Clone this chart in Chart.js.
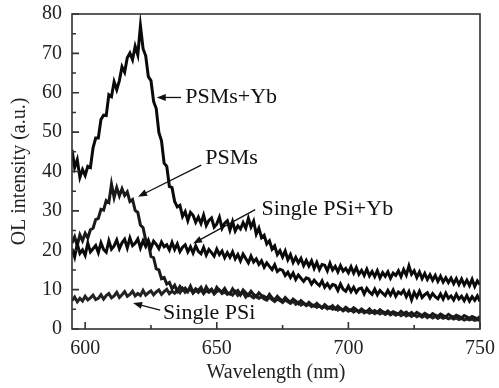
<!DOCTYPE html>
<html>
<head>
<meta charset="utf-8">
<script src="https://cdn.jsdelivr.net/npm/chart.js@4.4.1/dist/chart.umd.min.js"></script>
<style>
  html, body { margin: 0; padding: 0; background: #fff; }
  canvas { display: block; }
</style>
</head>
<body>
<canvas id="myChart" width="499" height="388"></canvas>
<script>
// wavelength grid, 1 nm steps from 595 to 750
var wavelength = [];
for (var w = 595; w <= 750; w++) wavelength.push(w);

var xTicks = [600, 650, 700, 750];
var xMinorTicks = [625, 675, 725];
var yTicks = [0, 10, 20, 30, 40, 50, 60, 70, 80];
var yMinorTicks = [5, 15, 25, 35, 45, 55, 65, 75];

var psmsYb = [
  45.5, 41.0, 43.0, 38.5, 40.5, 39.0, 41.3, 41.0, 46.0, 48.5,
  48.5, 53.2, 54.3, 54.2, 59.5, 59.0, 62.8, 60.8, 63.1, 66.6,
  65.2, 68.9, 70.1, 68.4, 71.8, 69.6, 77.0, 71.2, 69.4, 64.1,
  63.1, 57.8, 56.0, 49.9, 47.8, 42.1, 41.3, 36.2, 35.9, 32.4,
  31.0, 31.4, 28.6, 29.8, 27.5, 29.6, 28.9, 27.1, 28.4, 26.8,
  28.9, 26.3, 27.6, 28.2, 25.9, 26.7, 28.4, 25.6, 26.9, 27.5,
  25.1, 27.3, 24.9, 26.2, 25.4, 27.0, 25.6, 28.1, 25.9, 27.4,
  24.1, 25.6, 23.2, 23.8, 21.6, 22.4, 20.3, 21.1, 18.9, 19.9,
  18.3, 19.8, 17.6, 18.9, 16.9, 18.2, 16.8, 17.9, 16.1, 17.4,
  16.0, 17.3, 15.4, 16.9, 15.1, 16.4, 16.2, 14.8, 16.7, 15.0,
  15.9, 14.5, 16.1, 14.7, 15.4, 14.3, 15.8, 14.2, 15.6, 13.9,
  14.9, 13.6, 15.2, 13.5, 14.6, 13.3, 14.8, 13.0, 14.3, 13.4,
  14.5, 12.9, 14.2, 13.6, 14.8, 13.3, 15.1, 13.7, 16.0, 13.9,
  14.8, 13.1, 14.5, 12.8, 14.1, 12.6, 13.8, 12.4, 13.6, 12.1,
  13.4, 11.9, 13.0, 11.8, 12.9, 11.5, 12.8, 11.3, 12.7, 11.2,
  12.4, 11.0, 12.6, 10.8, 12.2, 11.3
];

var psiYb = [
  20.4, 18.3, 21.6, 19.2, 20.1, 18.7, 21.8, 19.6, 20.4, 21.2,
  19.4, 21.9, 20.2, 19.5, 22.4, 20.3, 21.1, 22.6, 20.4, 21.9,
  22.8, 20.6, 23.1, 21.2, 21.8, 22.9, 20.6, 22.4, 21.0, 22.5,
  20.6, 22.3, 21.5, 20.4, 22.1, 20.9, 21.4, 20.1, 22.0, 20.2,
  21.6, 19.7, 20.8, 21.4, 19.6, 20.9, 19.3, 21.1, 19.7, 19.1,
  20.7, 18.8, 20.2, 19.4, 18.5, 20.3, 18.9, 19.8, 18.1, 19.4,
  18.2, 19.6, 17.8, 18.9, 17.3, 19.0, 17.9, 16.8, 18.5, 17.0,
  17.8, 16.4, 17.3, 15.7, 16.8, 15.9, 15.1, 16.3, 14.6, 15.2,
  14.9, 13.6, 14.4, 13.1, 14.2, 12.6, 13.7, 12.9, 12.1, 13.0,
  12.7, 11.4, 12.4, 11.6, 11.0, 12.2, 10.6, 11.5, 10.4, 11.3,
  11.1, 9.8, 11.4, 10.1, 9.6, 10.9, 9.5, 10.6, 9.3, 10.2,
  10.4, 8.9, 10.3, 9.4, 8.8, 10.1, 8.7, 9.8, 9.1, 8.5,
  9.8, 8.6, 9.9, 8.3, 9.4, 8.9, 9.8, 8.2, 9.5, 7.4,
  9.3, 8.1, 9.6, 8.0, 8.7, 9.2, 7.9, 9.0, 8.2, 7.7,
  8.9, 7.6, 9.1, 7.8, 8.4, 7.4, 8.8, 7.6, 8.3, 7.2,
  8.5, 7.1, 8.2, 7.3, 8.4, 7.0
];

var psms = [
  21.8, 23.4, 21.2, 23.9, 22.4, 24.3, 23.1, 25.2, 25.6, 27.8,
  28.1, 30.4, 30.2, 32.6, 32.1, 36.8, 33.4, 35.9, 33.8, 35.6,
  33.9, 34.8, 32.4, 32.9, 30.1, 29.6, 26.4, 25.7, 22.6, 21.8,
  18.4, 18.1, 15.3, 15.0, 12.8, 13.1, 11.4, 11.8, 10.2, 11.1,
  9.6, 10.8, 9.9, 10.4, 9.5, 10.9, 9.3, 10.2, 9.8, 10.6,
  9.2, 10.7, 9.6, 10.1, 9.1, 10.6, 9.8, 9.4, 10.3, 9.2,
  8.9, 10.2, 9.3, 9.8, 8.7, 9.9, 9.2, 8.6, 9.6, 8.8,
  8.2, 9.2, 8.5, 8.3, 7.7, 8.8, 7.9, 7.4, 8.3, 7.6,
  7.1, 8.0, 7.3, 6.8, 7.6, 7.1, 6.4, 7.2, 6.6, 6.1,
  6.8, 6.2, 5.8, 6.5, 5.9, 5.4, 6.2, 5.6, 5.3, 5.9,
  5.1, 5.8, 5.2, 4.8, 5.5, 5.0, 4.7, 5.4, 4.9, 4.5,
  5.1, 4.6, 4.4, 5.1, 4.3, 4.7, 4.2, 4.9, 4.4, 4.1,
  4.6, 4.0, 4.4, 4.1, 3.8, 4.5, 3.9, 4.3, 3.7, 4.2,
  3.6, 4.2, 3.8, 3.4, 4.0, 3.6, 3.3, 3.9, 3.5, 3.2,
  3.8, 3.4, 3.1, 3.7, 3.3, 3.0, 3.5, 3.2, 2.8, 3.4,
  3.1, 2.7, 3.2, 2.9, 2.6, 3.2
];

var psi = [
  7.2, 8.1, 6.9, 7.8, 7.1, 8.3, 7.4, 7.9, 8.6, 7.5,
  7.8, 8.7, 7.6, 8.5, 9.0, 7.9, 8.4, 9.3, 8.0, 8.7,
  9.5, 8.3, 8.8, 9.6, 8.4, 9.0, 8.5, 9.8, 8.6, 9.2,
  9.7, 8.7, 9.4, 9.9, 8.8, 9.5, 10.1, 9.0, 9.6, 9.1,
  9.9, 9.2, 10.3, 9.3, 9.7, 10.1, 9.1, 9.8, 9.3, 10.0,
  9.0, 9.7, 9.3, 10.0, 8.9, 9.5, 9.9, 9.0, 9.4, 8.8,
  9.2, 8.6, 9.5, 8.5, 8.9, 9.2, 8.1, 8.8, 8.4, 7.9,
  8.5, 7.8, 8.2, 7.6, 7.3, 8.1, 7.5, 7.0, 7.6, 7.2,
  6.7, 7.4, 6.9, 6.5, 7.1, 6.3, 6.8, 6.1, 6.5, 5.9,
  6.3, 5.7, 6.1, 5.5, 5.9, 5.3, 5.7, 5.1, 5.6, 5.0,
  5.3, 4.8, 5.2, 4.6, 5.0, 4.5, 4.9, 4.3, 4.8, 4.2,
  4.6, 4.1, 4.5, 4.0, 4.4, 3.9, 4.3, 3.8, 4.2, 3.7,
  4.1, 3.6, 4.0, 3.5, 3.9, 3.4, 3.8, 3.3, 3.7, 3.2,
  3.6, 3.1, 3.5, 3.0, 3.4, 2.9, 3.3, 2.8, 3.2, 2.7,
  3.1, 2.7, 3.0, 2.6, 2.9, 2.5, 2.8, 2.4, 2.7, 2.3,
  2.6, 2.3, 2.5, 2.2, 2.4, 2.1
];

// labels with arrows: text anchor and arrow in data coordinates
var labels = [
  { text: "PSMs+Yb",       x: 638.0, y: 58.8, from: [636.4, 58.8], to: [627.2, 58.8] },
  { text: "PSMs",          x: 645.6, y: 43.4, from: [644.1, 41.6], to: [620.1, 33.6] },
  { text: "Single PSi+Yb", x: 667.0, y: 30.3, from: [664.6, 30.3], to: [641.0, 21.7] },
  { text: "Single PSi",    x: 629.6, y: 4.0,  from: [628.5, 4.8],  to: [618.2, 6.6] }
];

var serif = '"Liberation Serif", "Times New Roman", serif';

function toPoints(ys) {
  return wavelength.map(function(x, i) { return { x: x, y: ys[i] }; });
}

function line(ys, color) {
  return {
    data: toPoints(ys),
    borderColor: color,
    borderWidth: 3,
    pointRadius: 0,
    tension: 0,
    fill: false
  };
}

var framePlugin = {
  id: "frame",
  afterDatasetsDraw: function(chart) {
    var ctx = chart.ctx;
    var a = chart.chartArea;
    var xs = chart.scales.x, ys = chart.scales.y;
    ctx.save();
    ctx.strokeStyle = "#333";
    ctx.lineWidth = 1.6;
    ctx.strokeRect(a.left, a.top, a.right - a.left, a.bottom - a.top);

    // inward ticks
    ctx.beginPath();
    xTicks.forEach(function(v) {
      var px = xs.getPixelForValue(v);
      ctx.moveTo(px, a.bottom); ctx.lineTo(px, a.bottom - 7);
    });
    xMinorTicks.forEach(function(v) {
      var px = xs.getPixelForValue(v);
      ctx.moveTo(px, a.bottom); ctx.lineTo(px, a.bottom - 4);
    });
    yTicks.forEach(function(v) {
      var py = ys.getPixelForValue(v);
      ctx.moveTo(a.left, py); ctx.lineTo(a.left + 7, py);
    });
    yMinorTicks.forEach(function(v) {
      var py = ys.getPixelForValue(v);
      ctx.moveTo(a.left, py); ctx.lineTo(a.left + 4, py);
    });
    ctx.stroke();

    // annotations
    ctx.fillStyle = "#111";
    ctx.strokeStyle = "#111";
    ctx.lineWidth = 1.3;
    ctx.font = "22px " + serif;
    ctx.textAlign = "left";
    ctx.textBaseline = "middle";
    labels.forEach(function(l) {
      ctx.fillText(l.text, xs.getPixelForValue(l.x), ys.getPixelForValue(l.y));
      var x1 = xs.getPixelForValue(l.from[0]), y1 = ys.getPixelForValue(l.from[1]);
      var x2 = xs.getPixelForValue(l.to[0]), y2 = ys.getPixelForValue(l.to[1]);
      var ang = Math.atan2(y2 - y1, x2 - x1);
      ctx.beginPath();
      ctx.moveTo(x1, y1); ctx.lineTo(x2 - 6 * Math.cos(ang), y2 - 6 * Math.sin(ang));
      ctx.stroke();
      ctx.beginPath();
      ctx.moveTo(x2, y2);
      ctx.lineTo(x2 - 9 * Math.cos(ang) + 3.5 * Math.sin(ang), y2 - 9 * Math.sin(ang) - 3.5 * Math.cos(ang));
      ctx.lineTo(x2 - 9 * Math.cos(ang) - 3.5 * Math.sin(ang), y2 - 9 * Math.sin(ang) + 3.5 * Math.cos(ang));
      ctx.closePath();
      ctx.fill();
    });
    ctx.restore();
  }
};

new Chart("myChart", {
  type: "line",
  data: {
    datasets: [
      line(psmsYb, "#0a0a0a"),
      line(psiYb, "#0a0a0a"),
      line(psms, "#1a1a1a"),
      line(psi, "#222")
    ]
  },
  options: {
    responsive: false,
    animation: false,
    layout: { padding: { top: 12, right: 19, left: 0, bottom: 0 } },
    plugins: { legend: { display: false }, tooltip: { enabled: false } },
    scales: {
      x: {
        type: "linear",
        min: 595,
        max: 750,
        afterBuildTicks: function(s) { s.ticks = xTicks.map(function(v) { return { value: v }; }); },
        afterFit: function(s) { s.height = 59; },
        grid: { display: false },
        border: { display: false },
        ticks: { color: "#222", padding: 0, font: { family: serif, size: 20 } },
        title: { display: true, text: "Wavelength (nm)", color: "#222", padding: { top: 0, bottom: 3 }, font: { family: serif, size: 20 } }
      },
      y: {
        min: 0,
        max: 80,
        afterBuildTicks: function(s) { s.ticks = yTicks.map(function(v) { return { value: v }; }); },
        afterFit: function(s) { s.width = 72; },
        grid: { display: false },
        border: { display: false },
        ticks: { color: "#222", padding: 2, font: { family: serif, size: 20 } },
        title: { display: true, text: "OL intensity (a.u.)", color: "#222", padding: { top: 8, bottom: 0 }, font: { family: serif, size: 20 } }
      }
    }
  },
  plugins: [framePlugin]
});
</script>
</body>
</html>
